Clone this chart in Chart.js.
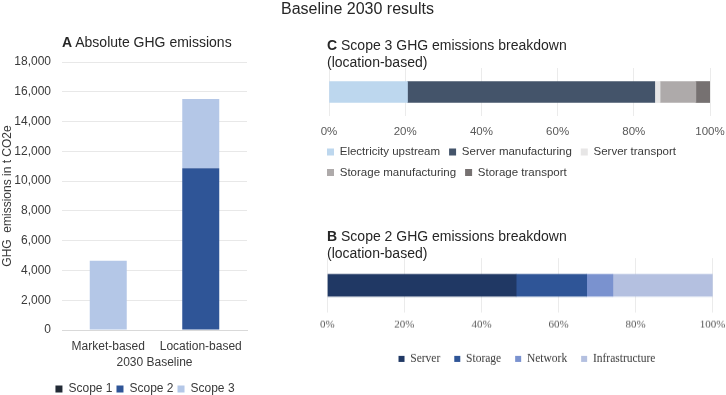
<!DOCTYPE html>
<html><head><meta charset="utf-8">
<script src="https://cdn.jsdelivr.net/npm/chart.js@4.4.0/dist/chart.umd.min.js"></script>
<style>
html,body{margin:0;padding:0;width:726px;height:395px;overflow:hidden;background:#fff;font-family:"Liberation Sans",Arial,sans-serif;color:#262626}
.t{position:absolute;font-size:14px;line-height:16.5px;white-space:nowrap;z-index:2;color:#262626}
.box{position:absolute}
#main{position:absolute;left:0;width:715px;top:0.5px;text-align:center;font-size:16px;line-height:16px;color:#262626;z-index:2}
</style></head>
<body>
<div id="main">Baseline 2030 results</div>
<div class="t" style="left:62px;top:34px"><b>A</b> Absolute GHG emissions</div>
<div class="t" style="left:327px;top:37.2px"><b>C</b> Scope 3 GHG emissions breakdown<br>(location-based)</div>
<div class="t" style="left:327px;top:228px"><b>B</b> Scope 2 GHG emissions breakdown<br>(location-based)</div>
<div class="box" style="left:0;top:0;width:290px;height:405px"><canvas id="cA"></canvas></div>
<div class="box" style="left:318px;top:60px;width:408px;height:128.25px"><canvas id="cC"></canvas></div>
<div class="box" style="left:315px;top:250px;width:424px;height:123.75px"><canvas id="cB"></canvas></div>
<script>
// ---- Data ----
const categories = ['Market-based', 'Location-based'];
const scopeLabels = ['Scope 1', 'Scope 2', 'Scope 3'];
const scope1 = [0, 0];
const scope2 = [0, 10870];
const scope3 = [4650, 4650];
const yTickMax = 18000;
const yTickStep = 2000;

const scope3Labels = ['Electricity upstream', 'Server manufacturing', 'Server transport', 'Storage manufacturing', 'Storage transport'];
const scope3Share = [20.6, 64.9, 1.4, 9.4, 3.7];

const scope2Labels = ['Server', 'Storage', 'Network', 'Infrastructure'];
const scope2Share = [49.0, 18.3, 6.8, 25.9];

const pctStep = 20;

// ---- Styles ----
const SANS = 'Liberation Sans, Arial, sans-serif';
const SERIF = 'Liberation Serif, Times New Roman, serif';
const TXT = '#3A3A3A';
const scopeColors = ['#222A35', '#2F5597', '#B4C7E7'];
const scope3Colors = ['#BDD7EE', '#44546A', '#E7E6E6', '#AEAAAA', '#767171'];
const scope2Colors = ['#203864', '#2F5597', '#7A92CF', '#B4C0E0'];

Chart.defaults.font.family = SANS;
Chart.defaults.color = TXT;

// ---- Chart A ----
new Chart(document.getElementById('cA'), {
  type: 'bar',
  data: {
    labels: categories,
    datasets: [scope1, scope2, scope3].map((d, i) => ({
      label: scopeLabels[i], data: d, backgroundColor: scopeColors[i],
      barPercentage: 0.4, categoryPercentage: 1, borderWidth: 0
    }))
  },
  options: {
    responsive: true, maintainAspectRatio: false, animation: false,
    layout: { padding: { top: 62, left: 0, right: 0, bottom: 0 } },
    plugins: {
      legend: { position: 'bottom', labels: { boxWidth: 7, boxHeight: 7, padding: 4, color: TXT, font: { size: 12, family: SANS } } },
      tooltip: { enabled: false }
    },
    scales: {
      x: {
        stacked: true, grid: { display: false }, border: { color: '#D9D9D9' },
        ticks: { padding: 1, color: TXT, font: { size: 12 } },
        title: { display: true, text: '2030 Baseline', padding: { top: 0, bottom: 8.8 }, color: TXT, font: { size: 12 } },
        afterFit: s => { s.height = 49; }
      },
      y: {
        stacked: true, min: 0, max: yTickMax,
        ticks: { stepSize: yTickStep, padding: 11, color: TXT, font: { size: 12 } },
        grid: { color: '#E8E8E8', drawTicks: false }, border: { display: false },
        title: { display: true, text: 'GHG  emissions in t CO2e', padding: { top: 0, bottom: 0 }, color: TXT, font: { size: 12 } },
        afterFit: s => { s.width = 62; }
      },
      yR: {
        type: 'linear', position: 'right', display: true,
        grid: { display: false }, ticks: { display: false }, border: { display: false },
        afterFit: s => { s.width = 43; }
      }
    }
  }
});

// ---- Chart C ----
new Chart(document.getElementById('cC'), {
  type: 'bar',
  data: {
    labels: [''],
    datasets: scope3Share.map((v, i) => ({
      label: scope3Labels[i], data: [v], backgroundColor: scope3Colors[i], barThickness: 21, borderWidth: 0
    }))
  },
  options: {
    indexAxis: 'y', responsive: true, maintainAspectRatio: false, animation: false,
    layout: { padding: { top: 8, left: 0, right: 16, bottom: 0 } },
    plugins: {
      legend: { position: 'bottom', align: 'start', labels: { boxWidth: 7, boxHeight: 7, padding: 9, color: TXT, font: { size: 11.5, family: SANS } } },
      tooltip: { enabled: false }
    },
    scales: {
      x: {
        stacked: true, min: 0, max: 100,
        ticks: { stepSize: pctStep, padding: 0, color: '#595959', font: { size: 11.5 }, callback: v => v + '%' },
        grid: { color: '#EBEBEB', drawTicks: true, tickLength: 9, tickColor: 'rgba(0,0,0,0)' }, border: { display: false },
        afterFit: s => { s.height = 21.25; }
      },
      y: {
        stacked: true, grid: { display: false }, ticks: { display: false }, border: { display: false },
        afterFit: s => { s.width = 11; }
      }
    }
  }
});

// ---- Chart B ----
new Chart(document.getElementById('cB'), {
  type: 'bar',
  data: {
    labels: [''],
    datasets: scope2Share.map((v, i) => ({
      label: scope2Labels[i], data: [v], backgroundColor: scope2Colors[i], barThickness: 22, borderWidth: 0
    }))
  },
  options: {
    indexAxis: 'y', responsive: true, maintainAspectRatio: false, animation: false,
    layout: { padding: { top: 8, left: 0, right: 0, bottom: 0 } },
    plugins: {
      legend: { position: 'bottom', labels: { boxWidth: 6, boxHeight: 6, padding: 14, color: TXT, font: { size: 11.5, family: SERIF } } },
      tooltip: { enabled: false }
    },
    scales: {
      x: {
        stacked: true, min: 0, max: 100,
        ticks: { stepSize: pctStep, padding: 0, color: '#595959', font: { size: 11, family: SERIF }, callback: v => v + '%' },
        grid: { color: '#EBEBEB', drawTicks: true, tickLength: 5.4, tickColor: 'rgba(0,0,0,0)' }, border: { display: false },
        afterFit: s => { s.height = 26.25; }
      },
      y: {
        stacked: true, grid: { display: false }, ticks: { display: false }, border: { display: false },
        afterFit: s => { s.width = 12.3; }
      },
      yR: {
        type: 'linear', position: 'right', display: true,
        grid: { display: false }, ticks: { display: false }, border: { display: false },
        afterFit: s => { s.width = 26.3; }
      }
    }
  }
});
</script>
</body></html>
